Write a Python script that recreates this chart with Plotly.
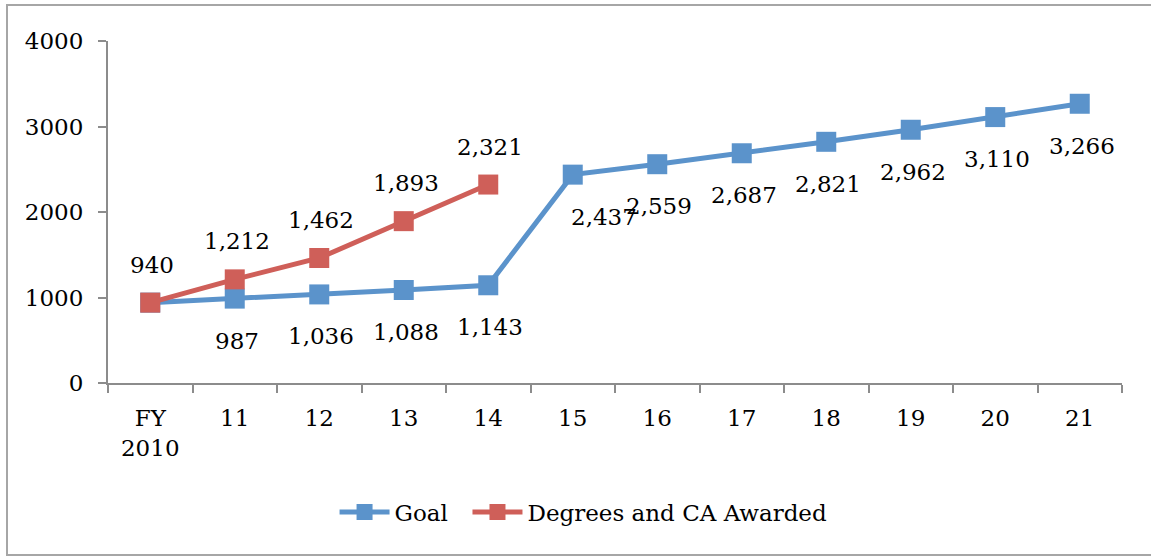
import plotly.graph_objects as go

# Fiscal-year categories and series values
categories = ["FY<br>2010", "11", "12", "13", "14", "15", "16", "17", "18", "19", "20", "21"]
goal = [940, 987, 1036, 1088, 1143, 2437, 2559, 2687, 2821, 2962, 3110, 3266]
awarded = [940, 1212, 1462, 1893, 2321]
y_ticks = [0, 1000, 2000, 3000, 4000]

BLUE = "#5B93CB"
RED = "#CF5F59"
FONT = "DejaVu Serif"
FS = 23
x_idx = list(range(len(categories)))

fig = go.Figure()
fig.add_trace(go.Scatter(
    x=x_idx, y=goal, name="Goal\u00a0\u00a0", mode="lines+markers",
    line=dict(color=BLUE, width=5),
    marker=dict(symbol="square", size=20, color=BLUE),
))
fig.add_trace(go.Scatter(
    x=x_idx[:len(awarded)], y=awarded, name="Degrees and CA Awarded", mode="lines+markers",
    line=dict(color=RED, width=5),
    marker=dict(symbol="square", size=20, color=RED),
))

# Value labels: goal below its markers (first point shares the awarded label), awarded above
for i, v in enumerate(goal):
    if i == 0:
        continue
    fig.add_annotation(x=i, y=v, text=f"{v:,}", showarrow=False,
                       yshift=-42, xshift=31 if i == 5 else 2,
                       font=dict(family=FONT, size=FS, color="black"))
for i, v in enumerate(awarded):
    fig.add_annotation(x=i, y=v, text=f"{v:,}", showarrow=False,
                       yshift=38, xshift=2,
                       font=dict(family=FONT, size=FS, color="black"))

# Outer chart-area border
fig.add_shape(type="rect", xref="paper", yref="paper",
              x0=(7 - 108) / 1014, x1=(1160 - 108) / 1014,
              y0=(383 - 555) / 342, y1=(383 - 5) / 342,
              line=dict(color="#A6A6A6", width=2), fillcolor="rgba(0,0,0,0)", layer="below")

fig.update_layout(
    width=1151, height=556,
    margin=dict(l=108, r=29, t=41, b=173),
    paper_bgcolor="white", plot_bgcolor="white",
    font=dict(family=FONT, size=FS, color="black"),
    showlegend=True,
    legend=dict(orientation="h", xref="container", yref="container",
                x=0.507, xanchor="center", y=1 - 512 / 556, yanchor="middle",
                font=dict(family=FONT, size=FS), itemwidth=50,
                tracegroupgap=0),
    xaxis=dict(
        range=[-0.5, len(categories) - 0.5],
        tickmode="array", tickvals=x_idx, ticktext=categories,
        ticks="", showgrid=False, zeroline=False,
        showline=True, linecolor="#8C8C8C", linewidth=2,
        minor=dict(tick0=-0.5, dtick=1, ticks="outside", ticklen=8,
                   tickcolor="#8C8C8C", tickwidth=2, showgrid=False),
        ticklabelstandoff=13,
        tickfont=dict(family=FONT, size=FS),
    ),
    yaxis=dict(
        range=[0, 4000], tickmode="array", tickvals=y_ticks,
        ticktext=[str(t) for t in y_ticks],
        ticks="outside", ticklen=8, tickcolor="#8C8C8C", tickwidth=2,
        showgrid=False, zeroline=False,
        showline=True, linecolor="#8C8C8C", linewidth=2,
        ticklabelstandoff=10,
        tickfont=dict(family=FONT, size=FS),
    ),
)

fig.write_html("out.html")
